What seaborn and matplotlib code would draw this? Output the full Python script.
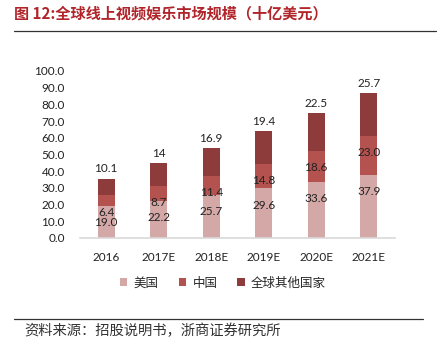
import matplotlib
matplotlib.use("Agg")
import matplotlib.pyplot as plt
import seaborn as sns
import numpy as np
import pandas as pd
from matplotlib.patches import Patch
from matplotlib.lines import Line2D

years = ["2016", "2017E", "2018E", "2019E", "2020E", "2021E"]
us = [19.0, 22.2, 25.7, 29.6, 33.6, 37.9]
china = [6.4, 8.7, 11.4, 14.8, 18.6, 23.0]
other = [10.1, 14, 16.9, 19.4, 22.5, 25.7]
other_labels = ["10.1", "14", "16.9", "19.4", "22.5", "25.7"]
series_names = ["美国", "中国", "全球其他国家"]
yticks = [0, 10, 20, 30, 40, 50, 60, 70, 80, 90, 100]

c_us = "#D4A8A7"
c_cn = "#B4524F"
c_ot = "#8E3C3B"

sns.set_theme(style="white")
plt.rcParams['font.family'] = ['Lato', 'Noto Sans CJK SC', 'DejaVu Sans']

fig = plt.figure(figsize=(4.38, 3.46), dpi=100)
ax = fig.add_axes([0.1826, 0.313, 0.7192, 0.4818])

us_a = np.array(us)
cn_top = us_a + np.array(china)
tot = cn_top + np.array(other)

df = pd.DataFrame({"year": years, "us": us_a, "cn": cn_top, "tot": tot})
for col, c in (("tot", c_ot), ("cn", c_cn), ("us", c_us)):
    sns.barplot(data=df, x="year", y=col, color=c, width=0.32, ax=ax,
                saturation=1, linewidth=0, edgecolor="none")

ax.set_xlim(-0.5, 5.5)
ax.set_ylim(0, 100)
ax.set_yticks(yticks)
ax.set_yticklabels([f"{v:.1f}" for v in yticks])
ax.set_xlabel("")
ax.set_ylabel("")
for s in ["top", "right", "left"]:
    ax.spines[s].set_visible(False)
ax.spines["bottom"].set_color("#D9D9D9")
ax.spines["bottom"].set_linewidth(1.2)
ax.tick_params(axis="y", length=0, pad=11, labelsize=8.5, colors="#222222")
ax.tick_params(axis="x", length=0, pad=10, labelsize=8.5, colors="#222222")

lab_kw = dict(ha="center", va="center", fontsize=8.5, color="#222222")
for i in range(len(years)):
    ax.text(i, us[i] - 10, f"{us[i]:.1f}", **lab_kw)
    ax.text(i, cn_top[i] - 10, f"{china[i]:.1f}", **lab_kw)
    ax.text(i, tot[i] + 2.5, other_labels[i], ha="center", va="bottom",
            fontsize=8.5, color="#222222")

handles = [Patch(facecolor=c, edgecolor="none") for c in (c_us, c_cn, c_ot)]
fig.legend(handles, series_names, loc="center", bbox_to_anchor=(223 / 438, 1 - 283 / 346),
           ncol=3, frameon=False, handlelength=0.6, handleheight=0.6,
           handletextpad=0.5, columnspacing=1.6,
           prop={"family": ["Noto Sans CJK SC"], "size": 9})

fig.text(14 / 438, 1 - 13 / 346, "图 12:全球线上视频娱乐市场规模（十亿美元）",
         ha="left", va="center", fontsize=10.9, fontweight="bold", color="#B0242A",
         family=["Noto Sans CJK SC", "DejaVu Sans"])
fig.add_artist(Line2D([14 / 438, 436 / 438], [1 - 31 / 346] * 2, color="#333333", lw=0.9))
fig.add_artist(Line2D([14 / 438, 423 / 438], [1 - 319 / 346] * 2, color="#333333", lw=0.9))
fig.text(24 / 438, 1 - 331 / 346, "资料来源：招股说明书，浙商证券研究所",
         ha="left", va="center", fontsize=10.3, color="#333333",
         family=["Noto Sans CJK SC", "DejaVu Sans"])

fig.savefig("out.png", dpi=100)
